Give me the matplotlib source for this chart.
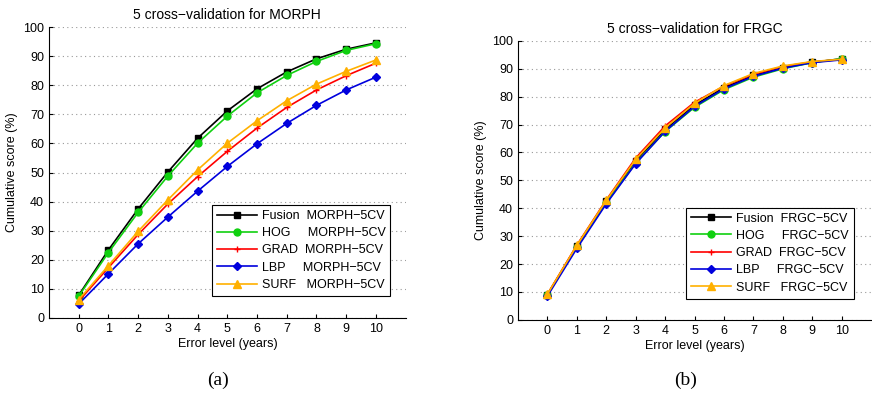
import numpy as np
import matplotlib
matplotlib.use('Agg')
import matplotlib.pyplot as plt

plt.rcParams['font.family'] = ['Liberation Sans', 'DejaVu Sans']

levels = list(range(11))

# MORPH 5-fold CV cumulative scores
morph_fusion = [7.8, 23.4, 37.5, 50.2, 61.8, 71.2, 78.8, 84.6, 89.1, 92.4, 94.6]
morph_hog = [7.5, 22.5, 36.3, 48.8, 60.1, 69.4, 77.4, 83.4, 88.2, 92.0, 94.3]
morph_grad = [5.8, 17.3, 28.7, 39.2, 48.6, 57.3, 65.3, 72.4, 78.4, 83.3, 87.6]
morph_lbp = [4.8, 15.2, 25.5, 34.7, 43.6, 52.1, 59.9, 66.9, 73.1, 78.4, 82.8]
morph_surf = [6.3, 18.0, 29.8, 40.6, 50.9, 60.1, 67.8, 74.7, 80.4, 84.8, 88.7]

# FRGC 5-fold CV cumulative scores
frgc_fusion = [9.0, 26.5, 42.5, 57.0, 68.3, 77.0, 83.2, 87.6, 90.4, 92.3, 93.6]
frgc_hog = [9.0, 26.3, 42.0, 56.2, 67.5, 76.2, 82.5, 87.0, 90.0, 92.2, 93.6]
frgc_grad = [9.2, 26.8, 43.0, 58.0, 69.5, 78.0, 83.8, 88.0, 90.8, 92.5, 93.3]
frgc_lbp = [8.5, 25.6, 41.6, 56.0, 67.6, 76.5, 82.8, 87.3, 90.2, 92.2, 93.2]
frgc_surf = [9.2, 26.7, 42.8, 57.5, 68.8, 77.6, 84.0, 88.3, 91.0, 92.6, 93.4]

names = ['Fusion', 'HOG', 'GRAD', 'LBP', 'SURF']
pads = ['  ', '     ', '  ', '     ', '   ']
colors = ['black', '#10d010', 'red', '#0000dd', '#ffb000']
markers = ['s', 'o', '+', 'D', '^']
msizes = [5, 5, 5, 4, 6]


def draw(ax, series, tag, title, anchor):
    for name, pad, vals, c, m, ms in zip(names, pads, series, colors, markers, msizes):
        ax.plot(levels, vals, color=c, marker=m, markersize=ms, lw=1.2,
                markeredgecolor=c, label=name + pad + tag + '\u22125CV')
    ax.set_xlim(-1, 11)
    ax.set_ylim(0, 100)
    ax.set_xticks(levels)
    ax.set_yticks(range(0, 101, 10))
    ax.tick_params(direction='in', labelsize=9, length=3)
    ax.yaxis.grid(True, ls=(0, (1, 3)), color='#999999', lw=0.8)
    ax.spines['top'].set_visible(False)
    ax.spines['right'].set_visible(False)
    ax.set_title(title, fontsize=10)
    ax.set_xlabel('Error level (years)', fontsize=9, labelpad=2)
    ax.set_ylabel('Cumulative score (%)', fontsize=9)
    leg = ax.legend(loc='upper right', bbox_to_anchor=anchor, fontsize=9,
                    fancybox=False, framealpha=1, edgecolor='black',
                    handlelength=3.2, handletextpad=0.4, labelspacing=0.42,
                    borderpad=0.4)
    leg.get_frame().set_linewidth(0.8)


fig = plt.figure(figsize=(8.72, 3.93), dpi=100)
ax1 = fig.add_axes([0.0562, 0.191, 0.409, 0.740])
ax2 = fig.add_axes([0.594, 0.186, 0.405, 0.710])

draw(ax1, [morph_fusion, morph_hog, morph_grad, morph_lbp, morph_surf], 'MORPH',
     '5 cross\u2212validation for MORPH', (0.975, 0.41))
draw(ax2, [frgc_fusion, frgc_hog, frgc_grad, frgc_lbp, frgc_surf], 'FRGC',
     '5 cross\u2212validation for FRGC', (0.968, 0.425))

fig.text(218 / 872, 1 - 380 / 393, '(a)', ha='center', va='center',
         family='Liberation Serif', fontsize=14)
fig.text(686 / 872, 1 - 380 / 393, '(b)', ha='center', va='center',
         family='Liberation Serif', fontsize=14)

fig.savefig('out.png', dpi=100)
